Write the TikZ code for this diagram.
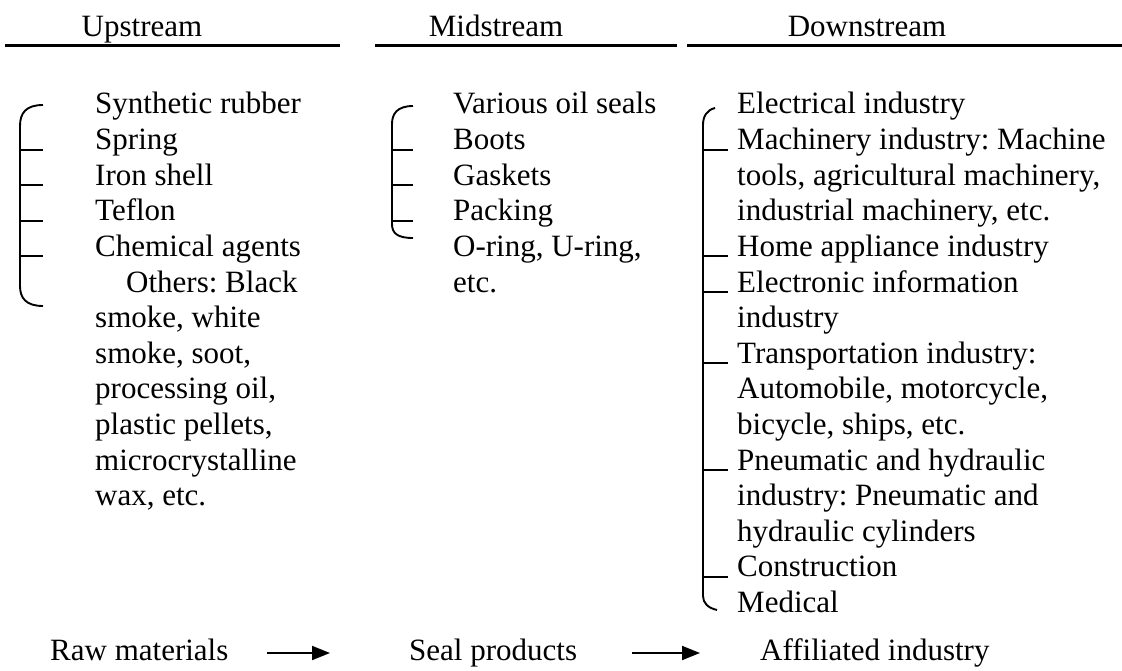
\documentclass[tikz,border=0pt]{standalone}
\usepackage{fontspec}
\setmainfont{Liberation Serif}
\usetikzlibrary{arrows.meta}
\frenchspacing
\begin{document}
\begin{tikzpicture}[x=1pt,y=-1pt,
  txt/.style={anchor=base west,inner sep=0pt,font=\fontsize{31}{35.6}\selectfont},
  hdr/.style={anchor=base,inner sep=0pt,font=\fontsize{31}{35.6}\selectfont},
  brk/.style={line width=1.9pt},
  rule/.style={line width=3pt},
  arr/.style={line width=1.9pt,-{Triangle[length=18pt,width=14pt]}}]
\useasboundingbox (0,0) rectangle (1122,671);
\def\py{35.6}
% headers
\node[hdr] (hu) at (142,37) {Upstream};
\node[hdr] (hm) at (496,37) {Midstream};
\node[hdr] (hd) at (867,37) {Downstream};
\draw[rule] (5,46) -- (340,46);
\draw[rule] (375,46) -- (677,46);
\draw[rule] (687,46) -- (1122,46);
% upstream
\node[txt] (u0) at (95,{114+0*\py}) {Synthetic rubber};
\node[txt] (u1) at (95,{114+1*\py}) {Spring};
\node[txt] (u2) at (95,{114+2*\py}) {Iron shell};
\node[txt] (u3) at (95,{114+3*\py}) {Teflon};
\node[txt] (u4) at (95,{114+4*\py}) {Chemical agents};
\node[txt] (u5) at (126,{114+5*\py}) {Others: Black};
\node[txt] (u6) at (95,{114+6*\py}) {smoke, white};
\node[txt] (u7) at (95,{114+7*\py}) {smoke, soot,};
\node[txt] (u8) at (95,{114+8*\py}) {processing oil,};
\node[txt] (u9) at (95,{114+9*\py}) {plastic pellets,};
\node[txt] (u10) at (95,{114+10*\py}) {microcrystalline};
\node[txt] (u11) at (95,{114+11*\py}) {wax, etc.};
\draw[brk] (43,105) .. controls (26,105) and (20,113) .. (20,126) -- (20,286) .. controls (20,298) and (26,306) .. (43,306);
\foreach \k in {1,2,3,4} \draw[brk] (20,{114+\k*\py}) -- (43,{114+\k*\py});
% midstream
\node[txt] (m0) at (453,{114+0*\py}) {Various oil seals};
\node[txt] (m1) at (453,{114+1*\py}) {Boots};
\node[txt] (m2) at (453,{114+2*\py}) {Gaskets};
\node[txt] (m3) at (453,{114+3*\py}) {Packing};
\node[txt] (m4) at (453,{114+4*\py}) {O-ring, U-ring,};
\node[txt] (m5) at (453,{114+5*\py}) {etc.};
\draw[brk] (413,106) .. controls (397,106) and (392,114) .. (392,124) -- (392,224) .. controls (392,233) and (397,238) .. (413,238);
\foreach \k in {1,2,3} \draw[brk] (392,{114+\k*\py}) -- (413,{114+\k*\py});
% downstream
\node[txt] (d0) at (737,{114+0*\py}) {Electrical industry};
\node[txt] (d1) at (737,{114+1*\py}) {Machinery industry: Machine};
\node[txt] (d2) at (737,{114+2*\py}) {tools, agricultural machinery,};
\node[txt] (d3) at (737,{114+3*\py}) {industrial machinery, etc.};
\node[txt] (d4) at (737,{114+4*\py}) {Home appliance industry};
\node[txt] (d5) at (737,{114+5*\py}) {Electronic information};
\node[txt] (d6) at (737,{114+6*\py}) {industry};
\node[txt] (d7) at (737,{114+7*\py}) {Transportation industry:};
\node[txt] (d8) at (737,{114+8*\py}) {Automobile, motorcycle,};
\node[txt] (d9) at (737,{114+9*\py}) {bicycle, ships, etc.};
\node[txt] (d10) at (737,{114+10*\py}) {Pneumatic and hydraulic};
\node[txt] (d11) at (737,{114+11*\py}) {industry: Pneumatic and};
\node[txt] (d12) at (737,{114+12*\py}) {hydraulic cylinders};
\node[txt] (d13) at (737,{114+13*\py}) {Construction};
\node[txt] (d14) at (737,{114+14*\py}) {Medical};
\draw[brk] (715,108) .. controls (707,110) and (703,116) .. (703,125) -- (703,596) .. controls (703,603) and (708,608) .. (717,610);
\foreach \k in {1,4,5,7,10,13} \draw[brk] (703,{114+\k*\py}) -- (728,{114+\k*\py});
% bottom row
\node[txt] (raw) at (50,660) {Raw materials};
\node[txt] (seal) at (409,660) {Seal products};
\node[txt] (aff) at (760,660) {Affiliated industry};
\draw[arr] ([xshift=38pt,yshift=7pt]raw.base east) -- ([xshift=-79pt,yshift=7pt]seal.base west);
\draw[arr] ([xshift=55pt,yshift=7pt]seal.base east) -- ([xshift=-60pt,yshift=7pt]aff.base west);
\end{tikzpicture}
\end{document}
